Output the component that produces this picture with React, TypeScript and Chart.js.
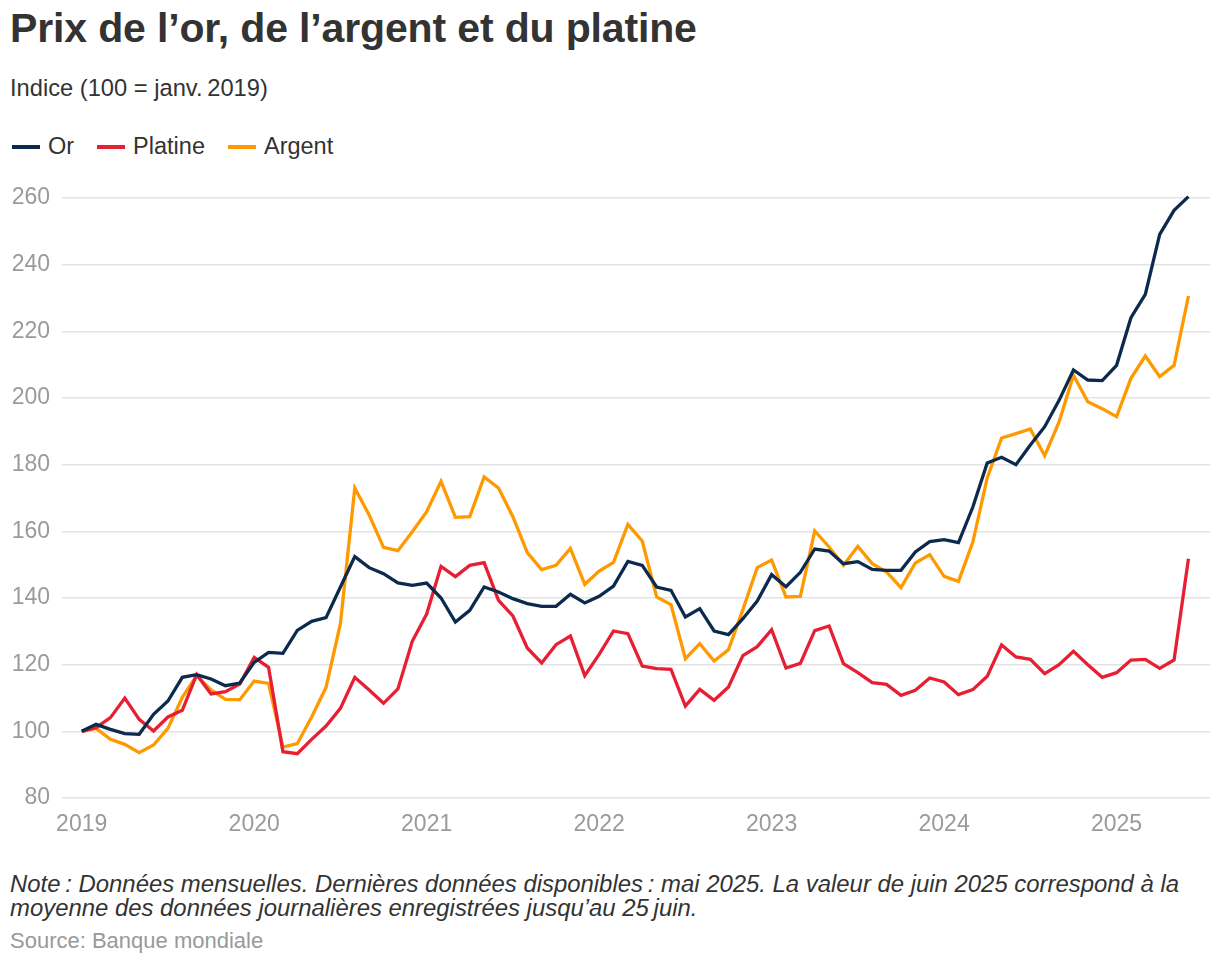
import React, { useEffect, useRef } from "react";
import { Chart, registerables } from "chart.js";

Chart.register(...registerables);

const YEARS = ["2019", "2020", "2021", "2022", "2023", "2024", "2025"];

const OR = [
  100, 102.1, 100.6, 99.3, 99.1, 105.1, 109.1, 116.2, 117, 115.7, 113.7, 114.5,
  120.7, 123.7, 123.4, 130.3, 133, 134.1, 143.3, 152.4, 149.1, 147.3, 144.5, 143.8,
  144.5, 140, 132.8, 136.3, 143.3, 141.8, 139.8, 138.3, 137.5, 137.5, 141.1, 138.5,
  140.5, 143.6, 151, 149.8, 143.3, 142.3, 134.3, 136.8, 130.1, 129, 133.8, 139.1,
  147, 143.4, 147.7, 154.7, 154.1, 150.3, 150.9, 148.6, 148.3, 148.3, 153.8, 156.9,
  157.5, 156.6, 167.3, 180.5, 182.2, 180, 185.9, 191.4, 199.3, 208.4, 205.4, 205.2,
  209.8, 224.1, 231.1, 249.1, 256.3, 260.4,
];

const PLATINE = [
  100, 101.1, 104.1, 110, 103.6, 100.1, 104.3, 106.3, 117, 111.2, 111.9, 114.2,
  122.2, 119.2, 93.9, 93.3, 97.6, 101.6, 106.9, 116.2, 112.4, 108.4, 112.7, 127,
  135.2, 149.5, 146.4, 149.8, 150.6, 139.3, 134.6, 125, 120.5, 126, 128.6, 116.7,
  123.1, 130.1, 129.3, 119.6, 118.8, 118.6, 107.6, 112.6, 109.3, 113.3, 122.7, 125.4,
  130.5, 119, 120.4, 130.2, 131.6, 120.3, 117.6, 114.6, 114.1, 110.8, 112.3, 116,
  114.8, 111, 112.5, 116.5, 125.9, 122.3, 121.6, 117.3, 120, 124, 120, 116.2,
  117.6, 121.4, 121.6, 118.9, 121.4, 151.8,
];

const ARGENT = [
  100, 100.9, 97.6, 96.1, 93.6, 95.9, 100.9, 110.2, 116.7, 112.4, 109.6, 109.5,
  115.1, 114.4, 95.3, 96.3, 104.3, 113.2, 132.3, 173, 164.9, 155.2, 154.2, 159.9,
  165.9, 175, 164.2, 164.4, 176.3, 173, 164.4, 153.6, 148.5, 149.8, 154.9, 144.1,
  148.1, 150.7, 162.1, 157.1, 140.3, 138, 121.8, 126.3, 121.1, 124.5, 136.5, 149.1,
  151.4, 140.3, 140.5, 160.1, 155.3, 149.8, 155.5, 150.3, 147.8, 143.1, 150.5, 153,
  146.5, 145, 156.8, 176, 188, 189.3, 190.7, 182.7, 192.8, 206.8, 198.9, 196.8,
  194.4, 205.9, 212.6, 206.4, 209.8, 230.6,
];

const SERIES_NAMES = ["Or", "Platine", "Argent"];
const COLORS = ["#0b2a4e", "#e61f33", "#ff9900"];

const FONT = '"Liberation Sans", Arial, Helvetica, sans-serif';

function toPoints(values: number[]) {
  return values.map((v, i) => ({ x: i, y: v }));
}

export default function App() {
  const canvasRef = useRef<HTMLCanvasElement | null>(null);

  useEffect(() => {
    document.body.style.margin = "0";
    const canvas = canvasRef.current;
    if (!canvas) return;
    Chart.defaults.font.family = FONT;
    const allSeries = [OR, PLATINE, ARGENT];
    const chart = new Chart(canvas, {
      type: "line",
      data: {
        datasets: allSeries.map((s, k) => ({
          label: SERIES_NAMES[k],
          data: toPoints(s),
          borderColor: COLORS[k],
          backgroundColor: COLORS[k],
          borderWidth: 3.3,
          pointRadius: 0,
          tension: 0,
          clip: false as const,
          borderJoinStyle: "miter" as const,
        })),
      },
      options: {
        animation: false,
        responsive: false,
        maintainAspectRatio: false,
        layout: { padding: { top: 28, right: 10, left: 0, bottom: 0 } },
        plugins: {
          legend: { display: false },
          tooltip: { enabled: false },
          title: { display: false },
        },
        scales: {
          x: {
            type: "linear",
            min: -1.37,
            max: 78.5,
            grid: { display: false, drawTicks: false },
            border: { display: false },
            afterBuildTicks: (scale: any) => {
              scale.ticks = YEARS.map((_, i) => ({ value: i * 12 }));
            },
            afterFit: (scale: any) => {
              scale.height = 52;
            },
            ticks: {
              color: "#9a9a9a",
              font: { size: 23, family: FONT },
              padding: 13,
              maxRotation: 0,
              autoSkip: false,
              callback: (value: any) => {
                const idx = Math.round(Number(value) / 12);
                return YEARS[idx] ?? "";
              },
            },
          },
          y: {
            min: 80,
            max: 260,
            grid: { color: "#e3e3e3", lineWidth: 1.6, drawTicks: false },
            border: { display: false },
            afterFit: (scale: any) => {
              scale.width = 62;
            },
            ticks: {
              stepSize: 20,
              color: "#9a9a9a",
              font: { size: 23, family: FONT },
              padding: 12,
            },
          },
        },
      },
    });
    return () => chart.destroy();
  }, []);

  const text: React.CSSProperties = { position: "absolute", whiteSpace: "nowrap", fontFamily: FONT };

  return (
    <div style={{ position: "relative", width: 1220, height: 964, background: "#fff", overflow: "hidden" }}>
      <div style={{ ...text, left: 10, top: 7.5, fontSize: 41, lineHeight: "41px", fontWeight: 700, color: "#333", letterSpacing: -0.15 }}>
        Prix de l’or, de l’argent et du platine
      </div>
      <div style={{ ...text, left: 10, top: 77, fontSize: 23.7, lineHeight: "23.7px", color: "#333" }}>
        Indice (100 = janv.&#8239;2019)
      </div>
      <div style={{ ...text, left: 12, top: 135, fontSize: 23.5, lineHeight: "23.5px", color: "#333", display: "flex", alignItems: "center" }}>
        {SERIES_NAMES.map((name, k) => (
          <div key={name} style={{ display: "flex", alignItems: "center", marginRight: 23 }}>
            <span style={{ display: "inline-block", width: 28, height: 3.5, background: COLORS[k], marginRight: 8 }} />
            <span>{name}</span>
          </div>
        ))}
      </div>
      <canvas ref={canvasRef} width={1220} height={680} style={{ position: "absolute", left: 0, top: 170, width: 1220, height: 680 }} />
      <div style={{ ...text, left: 10, top: 871.5, fontSize: 23.9, lineHeight: "24px", color: "#333", fontStyle: "italic" }}>
        Note&#8239;: Données mensuelles. Dernières données disponibles&#8239;: mai 2025. La valeur de juin 2025 correspond à la
        <br />
        moyenne des données journalières enregistrées jusqu’au 25&#8239;juin.
      </div>
      <div style={{ ...text, left: 10, top: 930, fontSize: 22, lineHeight: "22px", color: "#999" }}>
        Source: Banque mondiale
      </div>
    </div>
  );
}
